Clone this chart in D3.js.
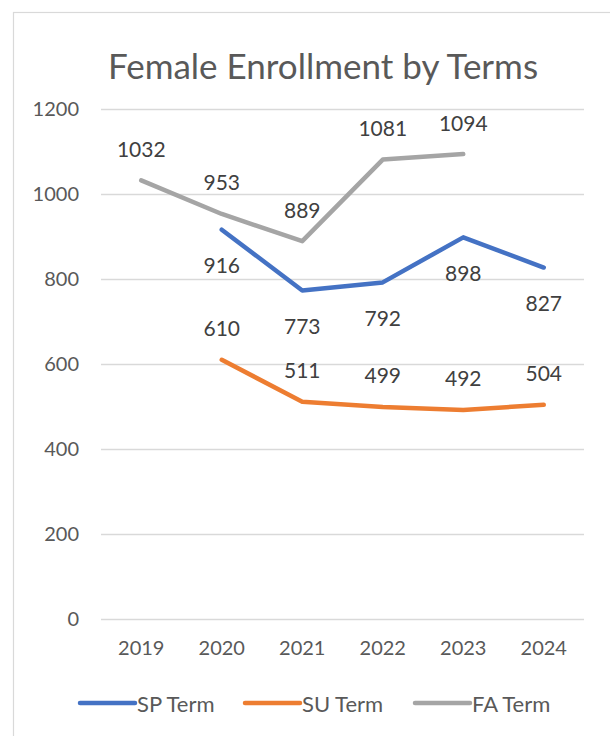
<!DOCTYPE html>
<html>
<head>
<meta charset="utf-8">
<script src="https://cdn.jsdelivr.net/npm/d3@7"></script>
<style>
  html, body { margin: 0; padding: 0; background: #fff; }
  svg { display: block; font-family: Lato, "Open Sans", sans-serif; }
</style>
</head>
<body>
<svg id="chart" width="610" height="736"></svg>
<script>
const years = ["2019", "2020", "2021", "2022", "2023", "2024"];
const spTerm = [null, 916, 773, 792, 898, 827];
const suTerm = [null, 610, 511, 499, 492, 504];
const faTerm = [1032, 953, 889, 1081, 1094, null];
const yTicks = [0, 200, 400, 600, 800, 1000, 1200];
const seriesNames = ["SP Term", "SU Term", "FA Term"];
const seriesColors = ["#4472C4", "#ED7D31", "#A5A5A5"];
const labelPlacement = ["below", "above", "above"];
const title = "Female Enrollment by Terms";

const series = [spTerm, suTerm, faTerm].map((vals, i) => ({
  name: seriesNames[i], color: seriesColors[i], place: labelPlacement[i],
  points: years.map((y, j) => ({ year: y, value: vals[j] })).filter(d => d.value !== null)
}));

const svg = d3.select("#chart");

// chart border
svg.append("rect").attr("x", 13.5).attr("y", 12.5).attr("width", 620).attr("height", 740)
  .attr("fill", "#fff").attr("stroke", "#d9d9d9").attr("stroke-width", 1.2);

const x = d3.scaleBand().domain(years).range([101, 584]);
const y = d3.scaleLinear().domain([0, 1200]).range([619, 109]);

// title
svg.append("text").attr("x", 323).attr("y", 65).attr("text-anchor", "middle")
  .attr("dominant-baseline", "central")
  .attr("font-size", 35).attr("fill", "#595959").text(title);

// gridlines + y labels
const yAxis = d3.axisLeft(y).tickValues(yTicks).tickSize(-(584 - 101)).tickPadding(22)
  .tickFormat(d3.format("d"));
const gy = svg.append("g").attr("transform", "translate(101,0)").call(yAxis);
gy.select(".domain").remove();
gy.selectAll(".tick line").attr("stroke", "#d9d9d9").attr("stroke-width", 1.3);
gy.selectAll(".tick text").attr("font-size", 20).attr("fill", "#595959")
  .attr("font-family", "Lato, sans-serif");

// x axis labels
const xAxis = d3.axisBottom(x).tickSize(0).tickPadding(22);
const gx = svg.append("g").attr("transform", "translate(0,619)").call(xAxis);
gx.select(".domain").remove();
gx.selectAll(".tick text").attr("font-size", 20).attr("fill", "#595959")
  .attr("font-family", "Lato, sans-serif");

const cx = d => x(d.year) + x.bandwidth() / 2;
const line = d3.line().x(cx).y(d => y(d.value));

series.forEach(s => {
  svg.append("path").datum(s.points).attr("d", line)
    .attr("fill", "none").attr("stroke", s.color).attr("stroke-width", 4.5)
    .attr("stroke-linecap", "round").attr("stroke-linejoin", "round");
});

series.forEach(s => {
  svg.append("g").selectAll("text").data(s.points).join("text")
    .attr("x", cx)
    .attr("y", d => y(d.value) + (s.place === "above" ? -32 : 35))
    .attr("text-anchor", "middle").attr("dominant-baseline", "central")
    .attr("font-size", 21).attr("fill", "#404040")
    .text(d => d.value);
});

// legend
const legendX = [80, 245, 415];
const lg = svg.append("g");
series.forEach((s, i) => {
  const g = lg.append("g").attr("transform", `translate(${legendX[i]},703)`);
  g.append("line").attr("x1", 0).attr("x2", 55).attr("y1", 0).attr("y2", 0)
    .attr("stroke", s.color).attr("stroke-width", 4.5).attr("stroke-linecap", "round");
  g.append("text").attr("x", 57).attr("y", 0).attr("dominant-baseline", "central")
    .attr("font-size", 22).attr("fill", "#595959").text(s.name);
});
</script>
</body>
</html>
